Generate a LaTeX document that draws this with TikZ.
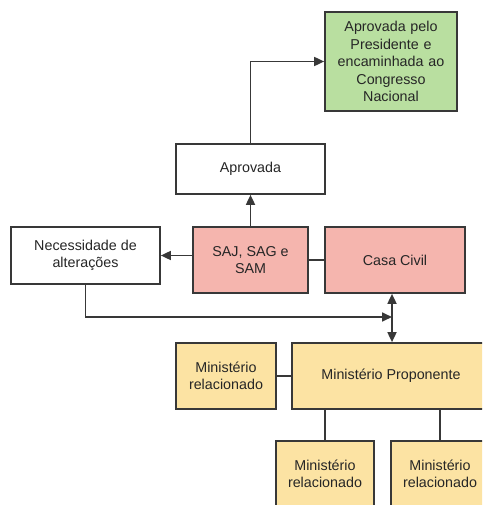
\documentclass[tikz,border=0pt]{standalone}
\usepackage{fontspec}
\setmainfont{Liberation Sans}
\usetikzlibrary{arrows.meta}
\definecolor{edgec}{HTML}{383838}
\definecolor{greenf}{HTML}{B9DFA0}
\definecolor{pinkf}{HTML}{F5B5AE}
\definecolor{yellowf}{HTML}{FCE3A3}
\tikzset{
  box/.style={draw=edgec, line width=1.7pt, align=center, inner sep=2pt,
    font=\fontsize{14.3}{17.5}\selectfont, text=black!85},
  conn/.style={draw=edgec, line width=1.7pt},
  arr/.style={conn, -{Triangle[length=10pt,width=9pt]}},
  darr/.style={conn, {Triangle[length=10pt,width=9pt]}-{Triangle[length=10pt,width=9pt]}},
}
\begin{document}
\begin{tikzpicture}[x=1pt,y=-1pt]
\fill[white] (0,0) rectangle (482,505);
\useasboundingbox (0,0) rectangle (482,505);
\clip (0,0) rectangle (482,505);
\node[box, fill=greenf, minimum width=132pt, minimum height=99pt, text width=125pt] (green) at (391,61.5)
  {Aprovada pelo\\Presidente e\\encaminhada ao\\Congresso\\Nacional};
\node[box, fill=white, minimum width=149pt, minimum height=50pt] (aprov) at (250.5,169) {Aprovada};
\node[box, fill=white, minimum width=149pt, minimum height=57pt] (nec) at (85.5,255.5) {Necessidade de\\altera\c{c}\~oes};
\node[box, fill=pinkf, minimum width=115pt, minimum height=66pt] (saj) at (250.5,260) {SAJ, SAG e\\SAM};
\node[box, fill=pinkf, minimum width=140pt, minimum height=66pt] (casa) at (395,260) {Casa Civil};
\node[box, fill=yellowf, minimum width=198pt, minimum height=66pt] (prop) at (391,376) {Minist\'erio Proponente};
\node[box, fill=yellowf, minimum width=100pt, minimum height=66pt] (rel1) at (226,376) {Minist\'erio\\relacionado};
\node[box, fill=yellowf, minimum width=98pt, minimum height=66pt] (rel2) at (325,474) {Minist\'erio\\relacionado};
\node[box, fill=yellowf, minimum width=98pt, minimum height=66pt] (rel3) at (440,474) {Minist\'erio\\relacionado};
\coordinate (j) at (392,317);
\draw[arr] (aprov.north) |- (green.west);
\draw[arr] (saj.north) -- (aprov.south);
\draw[arr] (saj.west |- nec.east) -- (nec.east);
\draw[conn] (saj.east) -- (casa.west);
\draw[arr] (nec.south) |- (j);
\draw[darr] (casa.south -| j) -- (prop.north -| j);
\draw[conn] (rel1.east) -- (prop.west);
\draw[conn] (prop.south -| rel2.north) -- (rel2.north);
\draw[conn] (prop.south -| rel3.north) -- (rel3.north);
\end{tikzpicture}
\end{document}
